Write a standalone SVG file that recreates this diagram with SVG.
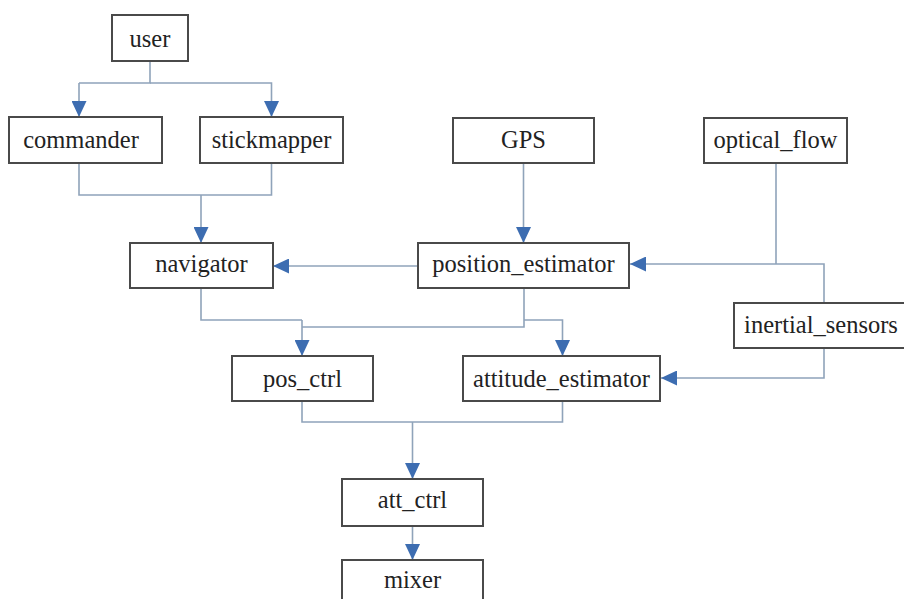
<svg xmlns="http://www.w3.org/2000/svg" width="904" height="599" viewBox="0 0 904 599">
<style>
.box rect{fill:#fff;stroke:#4a4a4a;stroke-width:2}
.box text{font-family:"Liberation Serif","Times New Roman",serif;font-size:24.5px;fill:#222;text-anchor:middle}
.conn path{fill:none;stroke:#8fa3ba;stroke-width:1.6}
.conn path.arr{marker-end:url(#ah)}
</style>
<defs>
<marker id="ah" markerUnits="userSpaceOnUse" markerWidth="16" markerHeight="15" refX="16" refY="7.5" orient="auto" viewBox="0 0 16 15">
<path d="M0,0 L16,7.5 L0,15 z" fill="#3d6db1"/>
</marker>
</defs>
<rect width="904" height="599" fill="#fff"/>
<g class="conn" id="connectors">
<path d="M150,61 V83 H79" />
<path class="arr" d="M79,83 V117"/>
<path class="arr" d="M150,83 H271.5 V117"/>
<path d="M79,163 V195 H271.5 V163"/>
<path class="arr" d="M201,195 V243"/>
<path class="arr" d="M523.5,163 V243"/>
<path class="arr" d="M418,266 H273"/>
<path d="M776,163 V264"/>
<path class="arr" d="M824,302 V264 H630"/>
<path d="M201,288 V320 H302"/>
<path class="arr" d="M302,320 V356"/>
<path d="M524,288 V327 H302"/>
<path class="arr" d="M524,320 H562.5 V356"/>
<path class="arr" d="M824,348 V378 H661"/>
<path d="M302,401 V422 H562.5 V401"/>
<path class="arr" d="M412.5,422 V479"/>
<path class="arr" d="M412.5,526 V560"/>
</g>
<g class="box" id="user"><rect x="112" y="15" width="76" height="46"/><text x="150" y="47">user</text></g>
<g class="box" id="commander"><rect x="9" y="117" width="153" height="46"/><text x="81" y="148">commander</text></g>
<g class="box" id="stickmapper"><rect x="200" y="117" width="143" height="46"/><text x="271.5" y="148">stickmapper</text></g>
<g class="box" id="GPS"><rect x="453" y="118" width="141" height="45"/><text x="523.5" y="148">GPS</text></g>
<g class="box" id="optical_flow"><rect x="704" y="118" width="143" height="45"/><text x="775.5" y="148">optical_flow</text></g>
<g class="box" id="navigator"><rect x="130" y="243" width="143" height="45"/><text x="201.5" y="272">navigator</text></g>
<g class="box" id="position_estimator"><rect x="418" y="243" width="211" height="45"/><text x="523.5" y="272">position_estimator</text></g>
<g class="box" id="inertial_sensors"><rect x="734" y="303" width="172" height="45"/><text x="821" y="333">inertial_sensors</text></g>
<g class="box" id="pos_ctrl"><rect x="232" y="356" width="141" height="45"/><text x="302.5" y="387">pos_ctrl</text></g>
<g class="box" id="attitude_estimator"><rect x="463" y="356" width="197" height="45"/><text x="561.5" y="387">attitude_estimator</text></g>
<g class="box" id="att_ctrl"><rect x="342" y="479" width="141" height="47"/><text x="412.5" y="508">att_ctrl</text></g>
<g class="box" id="mixer"><rect x="342" y="560" width="141" height="50"/><text x="412.5" y="588">mixer</text></g>
</svg>
